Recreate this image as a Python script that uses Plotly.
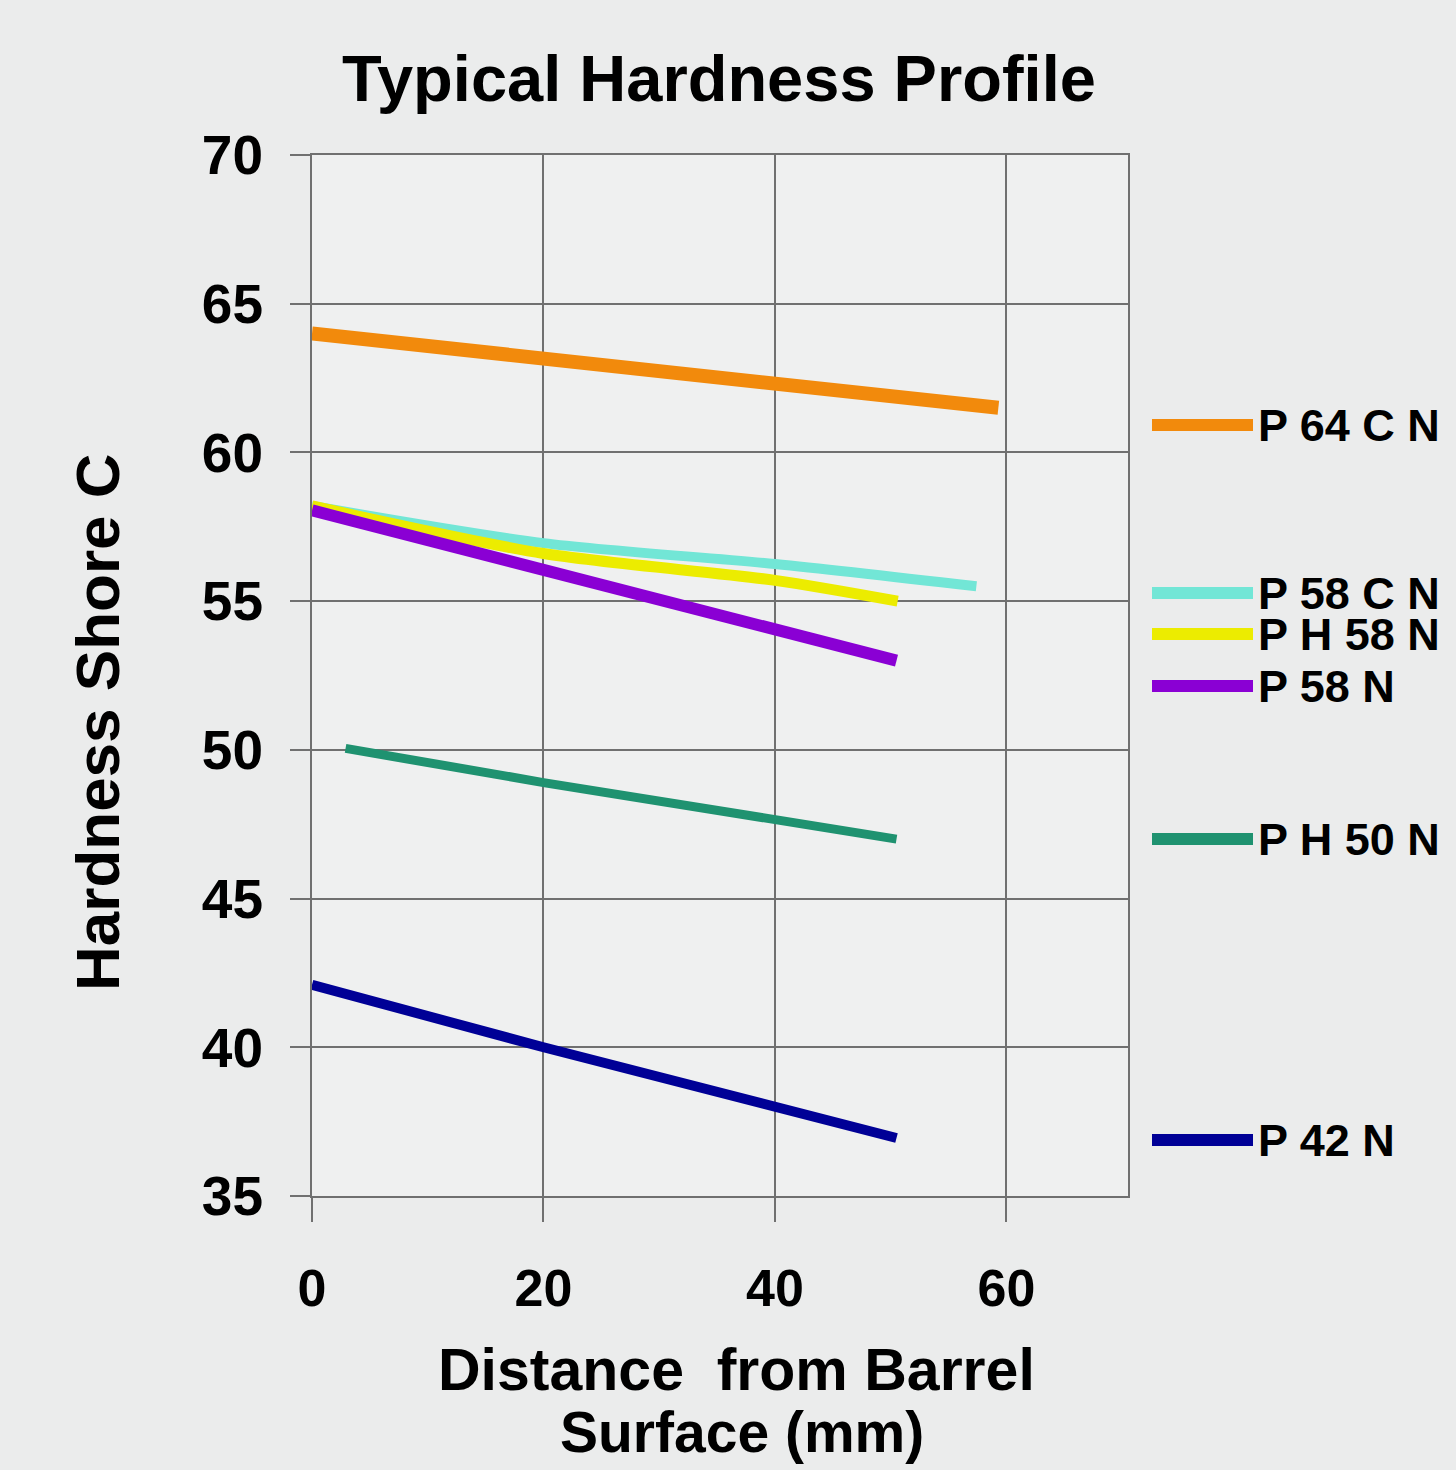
import plotly.graph_objects as go

# ---- data ----
series_names = ["P 64 C N", "P 58 C N", "P H 58 N", "P 58 N", "P H 50 N", "P 42 N"]
x_p64cn = [0, 40, 59.3]
y_p64cn = [64.0, 62.25, 61.5]
x_p58cn = [0, 20, 40, 57.4]
y_p58cn = [58.2, 56.95, 56.25, 55.5]
x_ph58n = [0, 20, 40, 50.6]
y_ph58n = [58.2, 56.6, 55.7, 55.0]
x_p58n = [0, 20, 40, 50.5]
y_p58n = [58.05, 56.05, 54.1, 53.0]
x_ph50n = [2.9, 20, 50.5]
y_ph50n = [50.05, 48.9, 47.0]
x_p42n = [0, 20, 50.5]
y_p42n = [42.1, 40.0, 36.95]

x_ticks = [0, 20, 40, 60]
y_ticks = [35, 40, 45, 50, 55, 60, 65, 70]

# ---- styles ----
colors = ["#F28A0C", "#72E6D6", "#ECEC00", "#8A00D4", "#1F9270", "#000096"]
widths = [14, 10, 11, 12, 9, 10]
shapes_ = ["linear", "spline", "spline", "linear", "linear", "linear"]
legend_px_y = [425, 593, 634, 686, 839, 1140]  # legend row positions (px from top)

FONT = "Liberation Sans, Arial, sans-serif"
W, H = 1456, 1470
L, R, T, B = 312, 328, 155, 274
plot_w = W - L - R
plot_h = H - T - B

xs = [x_p64cn, x_p58cn, x_ph58n, x_p58n, x_ph50n, x_p42n]
ys = [y_p64cn, y_p58cn, y_ph58n, y_p58n, y_ph50n, y_p42n]

fig = go.Figure()
for name, x, y, c, w, s in zip(series_names, xs, ys, colors, widths, shapes_):
    fig.add_trace(go.Scatter(x=x, y=y, mode="lines", name=name,
                             line=dict(color=c, width=w, shape=s, smoothing=0.8),
                             showlegend=False))

# custom legend
shapes = []
annotations = []
for name, c, py in zip(series_names, colors, legend_px_y):
    yp = 1 - (py - T) / plot_h
    x0 = (1152 - L) / plot_w
    x1 = (1253 - L) / plot_w
    shapes.append(dict(type="line", xref="paper", yref="paper", x0=x0, x1=x1,
                       y0=yp, y1=yp, line=dict(color=c, width=12)))
    annotations.append(dict(xref="paper", yref="paper", x=(1256 - L) / plot_w, y=yp,
                            xanchor="left", yanchor="middle", showarrow=False,
                            text=name, font=dict(family=FONT, size=45, color="black",
                                                 weight="bold")))

# axis titles
annotations.append(dict(xref="paper", yref="paper", x=(97 - L) / plot_w,
                        y=1 - (722 - T) / plot_h, textangle=-90, showarrow=False,
                        xanchor="center", yanchor="middle", text="Hardness Shore C",
                        font=dict(family=FONT, size=62, color="black", weight="bold")))
annotations.append(dict(xref="paper", yref="paper", x=(736 - L) / plot_w,
                        y=1 - (1370 - T) / plot_h, showarrow=False,
                        xanchor="center", yanchor="middle",
                        text="Distance&nbsp;&nbsp;from Barrel",
                        font=dict(family=FONT, size=59, color="black", weight="bold")))
annotations.append(dict(xref="paper", yref="paper", x=(742 - L) / plot_w,
                        y=1 - (1432 - T) / plot_h, showarrow=False,
                        xanchor="center", yanchor="middle",
                        text="Surface (mm)",
                        font=dict(family=FONT, size=57, color="black", weight="bold")))

grid = "#707070"
fig.update_layout(
    width=W, height=H,
    margin=dict(l=L, r=R, t=T, b=B),
    paper_bgcolor="#ebecec",
    plot_bgcolor="#eff0f0",
    title=dict(text="Typical Hardness Profile", x=(719) / W, xanchor="center",
               y=1 - 78 / H, yanchor="middle", yref="container",
               font=dict(family=FONT, size=65, color="black", weight="bold")),
    shapes=shapes,
    annotations=annotations,
    xaxis=dict(range=[0, 70.5], tickvals=x_ticks, showgrid=True, gridcolor=grid,
               gridwidth=2, showline=True, linecolor=grid, linewidth=2, mirror=True,
               ticks="outside", ticklen=24, tickwidth=2, tickcolor=grid,
               ticklabelstandoff=22, zeroline=False,
               tickfont=dict(family=FONT, size=52, color="black", weight="bold")),
    yaxis=dict(range=[35, 70], tickvals=y_ticks, showgrid=True, gridcolor=grid,
               gridwidth=2, showline=True, linecolor=grid, linewidth=2, mirror=True,
               ticks="outside", ticklen=20, tickwidth=2, tickcolor=grid,
               ticklabelstandoff=16, zeroline=False,
               tickfont=dict(family=FONT, size=55, color="black", weight="bold")),
)

fig.write_html("out.html",
               config={"displayModeBar": False},
               post_script="document.body.style.margin='0';"
                           "document.body.style.background='#ebecec';")
